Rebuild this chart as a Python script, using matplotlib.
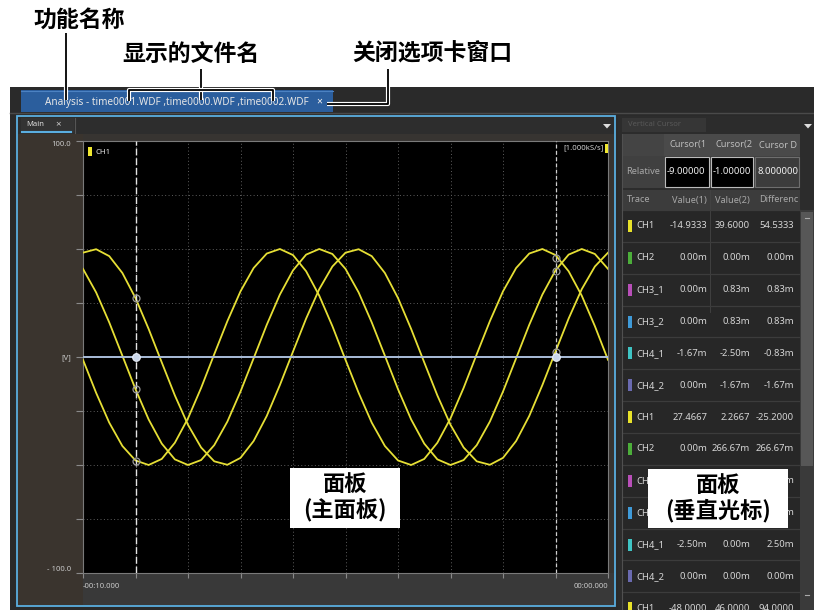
import matplotlib
matplotlib.use('Agg')
import matplotlib.pyplot as plt
from matplotlib.patches import Rectangle, Polygon
import matplotlib.patheffects as pe

W, H = 814, 610

# ---------------- data ----------------
time_s = [-10.0, -9.75, -9.5, -9.25, -9.0, -8.75, -8.5, -8.25, -8.0, -7.75,
          -7.5, -7.25, -7.0, -6.75, -6.5, -6.25, -6.0, -5.75, -5.5, -5.25,
          -5.0, -4.75, -4.5, -4.25, -4.0, -3.75, -3.5, -3.25, -3.0, -2.75,
          -2.5, -2.25, -2.0, -1.75, -1.5, -1.25, -1.0, -0.75, -0.5, -0.25, 0.0]

ch1_file1 = [40.8, 29.9, 16.0, 0.6, -14.9, -28.9, -40.1, -47.4, -50.0, -47.7,
             -40.8, -29.9, -16.0, -0.6, 14.9, 28.9, 40.1, 47.4, 50.0, 47.7,
             40.8, 29.9, 16.0, 0.6, -14.9, -28.9, -40.1, -47.4, -50.0, -47.7,
             -40.8, -29.9, -16.0, -0.6, 14.9, 28.9, 40.1, 47.4, 50.0, 47.7, 40.8]

ch1_file0 = [48.3, 49.9, 46.7, 38.9, 27.3, 13.0, -2.5, -17.8, -31.4, -41.9,
             -48.3, -49.9, -46.7, -38.9, -27.3, -13.0, 2.5, 17.8, 31.4, 41.9,
             48.3, 49.9, 46.7, 38.9, 27.3, 13.0, -2.5, -17.8, -31.4, -41.9,
             -48.3, -49.9, -46.7, -38.9, -27.3, -13.0, 2.5, 17.8, 31.4, 41.9, 48.3]

ch1_file2 = [-1.3, -16.6, -30.4, -41.2, -47.9, -50.0, -47.2, -39.7, -28.4, -14.3,
             1.3, 16.6, 30.4, 41.2, 47.9, 50.0, 47.2, 39.7, 28.4, 14.3,
             -1.3, -16.6, -30.4, -41.2, -47.9, -50.0, -47.2, -39.7, -28.4, -14.3,
             1.3, 16.6, 30.4, 41.2, 47.9, 50.0, 47.2, 39.7, 28.4, 14.3, -1.3]

flat_t = [-10.0, 0.0]
flat_v = [0.0, 0.0]

cursor_t = [-9.0, -1.0]
cursor_rel = ['-9.00000', '-1.00000', '8.000000']
cursor1_vals = [-14.9333, 27.4667, -48.0]
cursor2_vals = [39.6, 2.2667, 46.0]

x_ticks = [-10, -9, -8, -7, -6, -5, -4, -3, -2, -1, 0]
x_tick_labels = ['-00:10.000', '', '', '', '', '', '', '', '', '', '00:00.000']
y_ticks = [-100, -75, -50, -25, 0, 25, 50, 75, 100]
y_tick_labels = ['- 100.0', '', '', '', '[V]', '', '', '', '100.0']

rows_trace = ['CH1', 'CH2', 'CH3_1', 'CH3_2', 'CH4_1', 'CH4_2',
              'CH1', 'CH2', 'CH3_1', 'CH3_2', 'CH4_1', 'CH4_2', 'CH1']
rows_v1 = ['-14.9333', '0.00m', '0.00m', '0.00m', '-1.67m', '0.00m',
           '27.4667', '0.00m', '0.00m', '0.00m', '-2.50m', '0.00m', '-48.0000']
rows_v2 = ['39.6000', '0.00m', '0.83m', '0.83m', '-2.50m', '-1.67m',
           '2.2667', '266.67m', '0.00m', '0.00m', '0.00m', '0.00m', '46.0000']
rows_diff = ['54.5333', '0.00m', '0.83m', '0.83m', '-0.83m', '-1.67m',
             '-25.2000', '266.67m', '0.00m', '0.00m', '2.50m', '0.00m', '94.0000']
rows_covered = [8, 9]   # rows hidden behind the "面板(垂直光标)" label
trace_colors = {'CH1': '#e8e22a', 'CH2': '#4cae3a', 'CH3_1': '#b84fb8',
                'CH3_2': '#3f9ad8', 'CH4_1': '#3fc4c4', 'CH4_2': '#6a6ab0'}

tab_title = 'Analysis - time0001.WDF ,time0000.WDF ,time0002.WDF'

UI = ['Noto Sans', 'DejaVu Sans']
CJK = ['Noto Sans CJK SC', 'DejaVu Sans']

# ---------------- figure ----------------
fig = plt.figure(figsize=(W / 100, H / 100), dpi=100, facecolor='white')

bg = fig.add_axes([0, 0, 1, 1], zorder=0)
bg.set_xlim(0, W); bg.set_ylim(H, 0); bg.axis('off')


def rect(a, x0, y0, x1, y1, fc, ec='none', lw=0.0, z=1):
    a.add_patch(Rectangle((x0, y0), x1 - x0, y1 - y0, facecolor=fc,
                          edgecolor=ec, linewidth=lw, zorder=z))


# application background
rect(bg, 10, 87, 814, 610, '#2a2a2a')
bg.plot([10, 814], [112.5, 112.5], color='#4a4a4a', lw=1, zorder=2)
# file tab
rect(bg, 21, 90, 333, 112, '#2b5e9d', z=3)
bg.plot([21, 333], [90.5, 90.5], color='#4c82c2', lw=0.8, zorder=3)
bg.text(45, 102, tab_title, family=UI, fontsize=7.2, color='#e6e6e6',
        ha='left', va='center', zorder=4)
bg.text(319, 102, '×', family=UI, fontsize=7.5, color='#f0f0f0',
        ha='center', va='center', zorder=4)

# main panel
rect(bg, 17, 116, 615, 606, '#373431', ec='#5aaee0', lw=1.3, z=2)
rect(bg, 18, 117, 614, 134, '#2d2d2d', z=3)
rect(bg, 18, 134, 83, 605, '#3a342e', z=3)
rect(bg, 83, 573, 614, 605, '#393939', z=3)
rect(bg, 21, 118, 74, 133, '#333333', z=4)
bg.plot([74.5, 74.5], [118, 133], color='#555555', lw=0.8, zorder=5)
bg.text(26, 125, 'Main', family=UI, fontsize=5.5, color='#dddddd',
        ha='left', va='center', zorder=5)
bg.text(58, 125, '×', family=UI, fontsize=7, color='#cccccc',
        ha='center', va='center', zorder=5)
bg.plot([22, 71], [132, 132], color='#5aaee0', lw=1.5, zorder=5)
bg.add_patch(Polygon([(603, 124), (611, 124), (607, 128.5)], closed=True,
                     facecolor='#dddddd', edgecolor='none', zorder=5))

# right panel (vertical cursor)
rect(bg, 618, 116, 814, 610, '#2c2c2c', z=2)
rect(bg, 622, 118, 706, 132, '#363636', z=3)
bg.text(628, 125, 'Vertical Cursor', family=UI, fontsize=5.5, color='#585858',
        ha='left', va='center', zorder=4)
bg.add_patch(Polygon([(804, 124), (812, 124), (808, 128.5)], closed=True,
                     facecolor='#dddddd', edgecolor='none', zorder=5))

# cursor header row
rect(bg, 622, 134, 800, 156, '#4a4a4a', z=3)
rect(bg, 622, 134, 664, 156, '#444444', z=3)
for x0, lab in zip([670, 716, 759], ['Cursor(1', 'Cursor(2', 'Cursor D']):
    bg.text(x0, 145, lab, family=UI, fontsize=6.6, color='#bdbdbd',
            ha='left', va='center', zorder=4)
# relative row
rect(bg, 622, 156, 800, 188, '#404040', z=3)
bg.text(626, 172, 'Relative', family=UI, fontsize=6.6, color='#a8a8a8',
        ha='left', va='center', zorder=4)
box_x = [(665, 709, '#000000', '#bbbbbb'), (711, 753, '#000000', '#bbbbbb'),
         (755, 799, '#3c3c3c', '#6e6e6e')]
for (x0, x1, fc, ec), val in zip(box_x, cursor_rel):
    rect(bg, x0, 157, x1, 187, fc, ec=ec, lw=0.8, z=4)
    bg.text(x0 + 2, 172, val, family=UI, fontsize=6.8, color='#f2f2f2',
            ha='left', va='center', zorder=5, clip_on=True)
# trace header row
rect(bg, 622, 190, 800, 210, '#3c3c3c', z=3)
bg.text(627, 200, 'Trace', family=UI, fontsize=6.6, color='#a8a8a8',
        ha='left', va='center', zorder=4)
bg.text(707, 200, 'Value(1)', family=UI, fontsize=6.6, color='#a8a8a8',
        ha='right', va='center', zorder=4)
bg.text(750, 200, 'Value(2)', family=UI, fontsize=6.6, color='#a8a8a8',
        ha='right', va='center', zorder=4)
bg.text(759, 200, 'Differenc', family=UI, fontsize=6.6, color='#a8a8a8',
        ha='left', va='center', zorder=4)
bg.plot([710, 710], [190, 312], color='#444444', lw=0.6, zorder=4)

# data rows
row_h = 31.85
rect(bg, 622, 210, 800, 610, '#272727', z=3)
for i, (tr, v1, v2, df) in enumerate(zip(rows_trace, rows_v1, rows_v2, rows_diff)):
    y0 = 210 + i * row_h
    yc = y0 + 16
    bg.plot([622, 800], [y0, y0], color='#3c3c3c', lw=0.9, zorder=4)
    rect(bg, 628, yc - 6, 632, yc + 6, trace_colors[tr], z=5)
    bg.text(636, yc, tr, family=UI, fontsize=6.8, color='#d6d6d6',
            ha='left', va='center', zorder=5)
    if i not in rows_covered:
        bg.text(707, yc, v1, family=UI, fontsize=6.8, color='#d6d6d6',
                ha='right', va='center', zorder=5)
        bg.text(750, yc, v2, family=UI, fontsize=6.8, color='#d6d6d6',
                ha='right', va='center', zorder=5)
    bg.text(794, yc, df, family=UI, fontsize=6.8, color='#d6d6d6',
            ha='right', va='center', zorder=5)
bg.plot([622, 622], [134, 610], color='#505050', lw=0.8, zorder=6)
# scrollbar
rect(bg, 800, 210, 814, 610, '#3a3a3a', z=6)
rect(bg, 801, 212, 813, 466, '#575757', z=7)
bg.plot([805, 809], [218, 218], color='#aaaaaa', lw=0.8, zorder=8)
bg.plot([805, 809], [595, 595], color='#aaaaaa', lw=0.8, zorder=8)

# ---------------- waveform axes ----------------
ax = fig.add_axes([83 / W, 1 - 573 / H, 525 / W, 432 / H], zorder=2)
ax.set_facecolor('black')
ax.set_xlim(-10, 0)
ax.set_ylim(-100, 100)
ax.set_xticks(x_ticks)
ax.set_xticklabels(x_tick_labels)
ax.set_yticks(y_ticks)
ax.set_yticklabels(y_tick_labels)
for lab in ax.get_xticklabels() + ax.get_yticklabels():
    lab.set_family(UI)
ax.get_xticklabels()[0].set_ha('left')
ax.get_xticklabels()[-1].set_ha('right')
ax.get_yticklabels()[0].set_va('bottom')
ax.get_yticklabels()[-1].set_va('top')
ax.tick_params(axis='y', length=5, width=0.8, color='#8a8a8a', pad=3.5,
               labelsize=5.5, labelcolor='#c8c8c8')
ax.tick_params(axis='x', length=3.5, width=0.8, color='#8a8a8a', pad=4,
               labelsize=5.5, labelcolor='#c8c8c8')
for s in ax.spines.values():
    s.set_color('#7a7a7a'); s.set_linewidth(0.8)
ax.grid(True, color='#5e5e5e', linestyle=(0, (1, 2.5)), linewidth=0.7)
ax.set_axisbelow(True)

wave_color = '#e6df35'
for wv in (ch1_file1, ch1_file0, ch1_file2):
    ax.plot(time_s, wv, color=wave_color, lw=1.3, zorder=3,
            solid_joinstyle='round')
ax.plot(flat_t, flat_v, color='#a9bdd9', lw=1.4, zorder=4)

ax.axvline(cursor_t[0], color='#e4e4e4', lw=1.0, ls=(0, (5, 2)), zorder=5)
ax.axvline(cursor_t[1], color='#cfcfcf', lw=0.9, ls=(0, (3, 2)), zorder=5)
ax.plot([cursor_t[0]] * 3, cursor1_vals, 'o', mfc='none', mec='#9a9a9a',
        ms=5, mew=0.9, zorder=6)
ax.plot([cursor_t[1]] * 3, cursor2_vals, 'o', mfc='none', mec='#9a9a9a',
        ms=5, mew=0.9, zorder=6)
ax.plot(cursor_t, [0, 0], 'o', mfc='#c9d6ea', mec='#e8eef8', ms=5.5, mew=0.8,
        zorder=7)

# legend / sample rate labels (axes-fraction positions)
ax.add_patch(Rectangle((5 / 525, (573 - 156) / 432), 4 / 525, 9 / 432,
                       transform=ax.transAxes, facecolor='#f0e830',
                       edgecolor='none', zorder=8))
ax.text(12 / 525, (573 - 152) / 432, 'CH1', transform=ax.transAxes, family=UI,
        fontsize=5.6, color='#e8e8e8', ha='left', va='center', zorder=8)
ax.text(521 / 525, (573 - 148) / 432, '[1.000kS/s]', transform=ax.transAxes,
        family=UI, fontsize=5.6, color='#d0d0d0', ha='right', va='center',
        zorder=8)
ax.add_patch(Rectangle((522 / 525, (573 - 153) / 432), 3 / 525, 9 / 432,
                       transform=ax.transAxes, facecolor='#f0e830',
                       edgecolor='none', zorder=8))

# ---------------- annotation overlay ----------------
top = fig.add_axes([0, 0, 1, 1], zorder=3)
top.set_xlim(0, W); top.set_ylim(H, 0); top.axis('off')

halo = [pe.Stroke(linewidth=3.0, foreground='white'), pe.Normal()]


def leader(xs, ys):
    top.plot(xs, ys, color='black', lw=1.3, solid_capstyle='butt',
             path_effects=halo, zorder=5)


top.text(33, 20, '功能名称', family=CJK, fontweight='bold', fontsize=16.5,
         color='black', ha='left', va='center')
top.text(122, 54, '显示的文件名', family=CJK, fontweight='bold', fontsize=16.5,
         color='black', ha='left', va='center')
top.text(352, 54, '关闭选项卡窗口', family=CJK, fontweight='bold', fontsize=16.5,
         color='black', ha='left', va='center')

leader([66, 66], [33, 100])
leader([201, 201], [69, 100])
leader([129, 129, 273, 273], [101, 90, 90, 101])
leader([388, 388, 327], [69, 104, 104])

# panel labels
rect(top, 290, 468, 400, 528, 'white', z=6)
top.text(345, 485, '面板', family=CJK, fontweight='bold', fontsize=16,
         color='black', ha='center', va='center', zorder=7)
top.text(345, 511, '(主面板)', family=CJK, fontweight='bold', fontsize=16,
         color='black', ha='center', va='center', zorder=7)
rect(top, 648, 469, 788, 528, 'white', z=6)
top.text(718, 486, '面板', family=CJK, fontweight='bold', fontsize=16,
         color='black', ha='center', va='center', zorder=7)
top.text(718, 511, '(垂直光标)', family=CJK, fontweight='bold', fontsize=16,
         color='black', ha='center', va='center', zorder=7)

fig.savefig('out.png', dpi=100, facecolor='white')
